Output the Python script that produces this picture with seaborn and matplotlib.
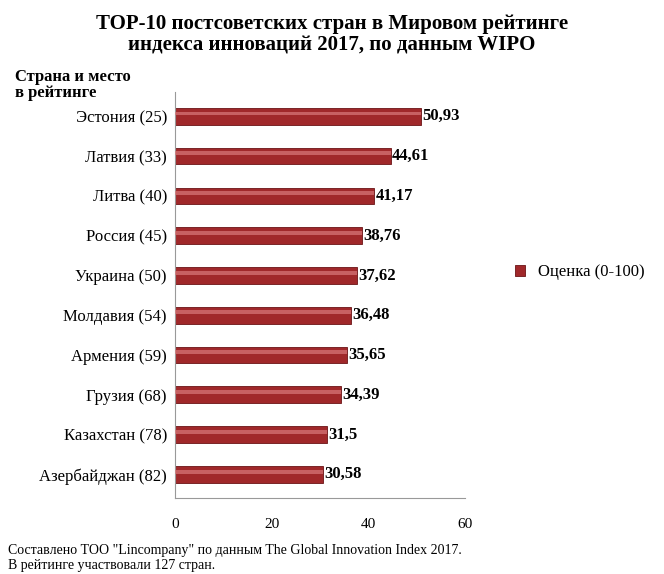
import matplotlib
matplotlib.use("Agg")
import matplotlib.pyplot as plt
import seaborn as sns
import pandas as pd

countries = ["Эстония (25)", "Латвия (33)", "Литва (40)", "Россия (45)", "Украина (50)",
             "Молдавия (54)", "Армения (59)", "Грузия (68)", "Казахстан (78)", "Азербайджан (82)"]
values = [50.93, 44.61, 41.17, 38.76, 37.62, 36.48, 35.65, 34.39, 31.5, 30.58]
labels = ["50,93", "44,61", "41,17", "38,76", "37,62", "36,48", "35,65", "34,39", "31,5", "30,58"]
ticks = [0, 20, 40, 60]

df = pd.DataFrame({"country": countries, "value": values})
plt.rcParams["font.family"] = "Liberation Serif"

fig = plt.figure(figsize=(6.64, 5.74), dpi=100)
ax = fig.add_axes([0.264, 0.132, 0.436, 0.707])
sns.barplot(data=df, x="value", y="country", color="#A0282A", width=0.42,
            saturation=1, ax=ax, label="Оценка (0-100)", edgecolor="#6B1416", linewidth=0.6)
for i, v in enumerate(values):
    ax.barh(i - 0.07, v, height=0.1, left=0, color="#D9797A", alpha=0.7, zorder=3)
for i, (v, t) in enumerate(zip(values, labels)):
    ax.text(v + 0.3, i, t, va="center", ha="left", fontsize=12, fontweight="bold")

ax.set_xlim(0, 60)
ax.set_xticks(ticks)
ax.set_xlabel("")
ax.set_ylabel("")
ax.tick_params(axis="y", labelsize=12, length=0, pad=6)
ax.tick_params(axis="x", labelsize=11, length=0, pad=14)
for s in ["top", "right"]:
    ax.spines[s].set_visible(False)
for s in ["left", "bottom"]:
    ax.spines[s].set_color("#999999")
ax.set_ylim(9.6, -0.6)

ax.legend(loc="center left", bbox_to_anchor=(1.12, 0.557), frameon=False,
          fontsize=12, handlelength=0.6, handleheight=0.6)

fig.text(0.5, 0.939, "TOP-10 постсоветских стран в Мировом рейтинге\nиндекса инноваций 2017, по данным WIPO",
         ha="center", va="center", fontsize=15, fontweight="bold", linespacing=1.1)
fig.text(0.022, 0.852, "Страна и место\nв рейтинге", ha="left", va="center",
         fontsize=12, fontweight="bold", linespacing=1.0)
fig.text(0.012, 0.028, 'Составлено ТОО "Lincompany" по данным The Global Innovation Index 2017.\nВ рейтинге участвовали 127 стран.',
         ha="left", va="center", fontsize=10, linespacing=1.2)
fig.savefig("out.png", dpi=100)
